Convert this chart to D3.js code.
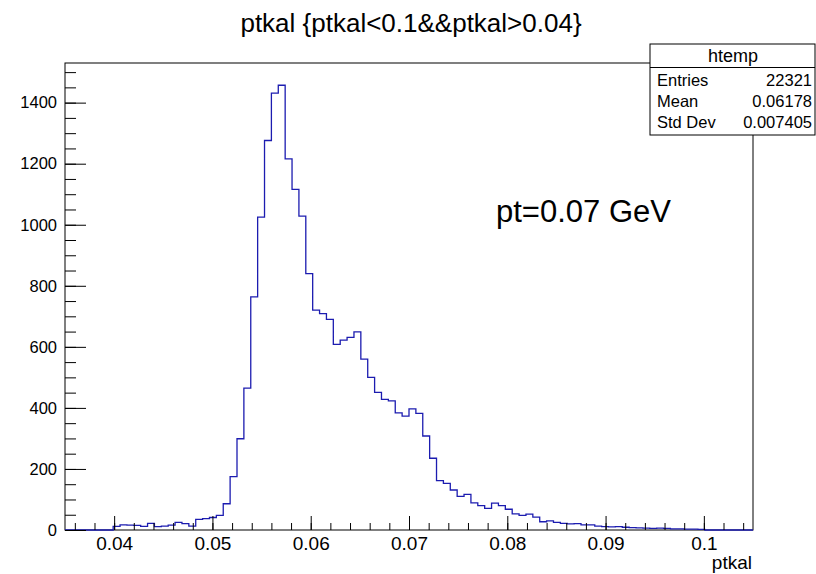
<!DOCTYPE html>
<html lang="en">
<head>
    <meta charset="utf-8">
    <title>ptkal</title>
    <script src="https://cdn.jsdelivr.net/npm/d3@7"></script>
    <style>
        body { margin: 0; background: #fff; }
        svg { display: block; font-family: "Liberation Sans", Arial, Helvetica, sans-serif; }
        .axis path.domain { display: none; }
        .axis line { stroke: #000; }
        .axis text { fill: #000; }
    </style>
</head>
<body>
    <svg id="canvas" width="816" height="574"></svg>
    <script>
        // histogram binning (100 bins, 0.035 .. 0.105)
        const binLow = 0.035
        const binWidth = 0.0007
        const counts = [
            0, 0, 0, 0, 0, 0, 0, 12, 17, 16,
            15, 12, 22, 11, 13, 16, 25, 21, 13, 35,
            37, 41, 48, 86, 175, 299, 465, 764, 1025, 1276,
            1431, 1457, 1216, 1116, 1028, 840, 720, 709, 690, 608,
            622, 631, 649, 560, 500, 451, 428, 423, 384, 373,
            397, 382, 308, 235, 162, 153, 131, 110, 117, 89,
            80, 71, 88, 80, 68, 53, 48, 52, 42, 27,
            30, 25, 22, 20, 21, 17, 17, 13, 11, 10,
            11, 9, 8, 7, 6, 5, 6, 5, 4, 4,
            3, 3, 2, 0, 0, 0, 0, 0, 0, 0
        ]
        const xMajor = [0.04, 0.05, 0.06, 0.07, 0.08, 0.09, 0.1]
        const xMinor = d3.range(18, 53).map(d => d * 0.002)
        const yMajor = [0, 200, 400, 600, 800, 1000, 1200, 1400]
        const yMinor = d3.range(0, 31).map(d => d * 50)
        const statNames = ["Entries", "Mean", "Std Dev"]
        const statValues = ["22321", "0.06178", "0.007405"]

        const svg = d3.select('svg')
        const frameL = 65, frameR = 753, frameT = 63, frameB = 530

        const x = d3.scaleLinear().domain([binLow, binLow + binWidth * counts.length]).range([frameL, frameR])
        const y = d3.scaleLinear().domain([0, 1.05 * d3.max(counts)]).range([frameB, frameT])

        // title
        svg.append("text")
            .attr("x", 411).attr("y", 32)
            .attr("text-anchor", "middle")
            .attr("font-size", 26)
            .text("ptkal {ptkal<0.1&&ptkal>0.04}")

        // frame
        svg.append("rect")
            .attr("x", frameL).attr("y", frameT)
            .attr("width", frameR - frameL).attr("height", frameB - frameT)
            .attr("fill", "none").attr("stroke", "#000")

        // histogram outline
        const pts = counts.map((c, i) => [binLow + i * binWidth, c])
        pts.push([binLow + counts.length * binWidth, counts[counts.length - 1]])
        const line = d3.line().x(d => x(d[0])).y(d => y(d[1])).curve(d3.curveStepAfter)
        svg.append("path")
            .attr("d", line(pts))
            .attr("fill", "none")
            .attr("stroke", "#1c1cb0")
            .attr("stroke-width", 1.3)

        // x axis
        svg.append("g").attr("class", "axis")
            .attr("transform", `translate(0,${frameB})`)
            .call(d3.axisBottom(x).tickValues(xMinor).tickSize(-7).tickFormat(""))
        svg.append("g").attr("class", "axis")
            .attr("transform", `translate(0,${frameB})`)
            .call(d3.axisBottom(x).tickValues(xMajor).tickSize(-14).tickPadding(7).tickFormat(d3.format("~g")))
            .selectAll("text").attr("font-size", 19)

        // y axis
        svg.append("g").attr("class", "axis")
            .attr("transform", `translate(${frameL},0)`)
            .call(d3.axisLeft(y).tickValues(yMinor).tickSize(-11).tickFormat(""))
        svg.append("g").attr("class", "axis")
            .attr("transform", `translate(${frameL},0)`)
            .call(d3.axisLeft(y).tickValues(yMajor).tickSize(-21).tickPadding(8).tickFormat(d3.format("d")))
            .selectAll("text").attr("font-size", 16.5)

        svg.append("text")
            .attr("x", 752).attr("y", 569)
            .attr("text-anchor", "end")
            .attr("font-size", 19)
            .text("ptkal")

        // annotation
        svg.append("text")
            .attr("x", 496).attr("y", 222)
            .attr("font-size", 31)
            .text("pt=0.07 GeV")

        // stats box
        const stats = svg.append("g")
        stats.append("rect")
            .attr("x", 650).attr("y", 44).attr("width", 165).attr("height", 91)
            .attr("fill", "#fff").attr("stroke", "#000")
        stats.append("line")
            .attr("x1", 650).attr("x2", 815).attr("y1", 67.5).attr("y2", 67.5)
            .attr("stroke", "#000")
        stats.append("text")
            .attr("x", 733).attr("y", 62)
            .attr("text-anchor", "middle")
            .attr("font-size", 18)
            .text("htemp")
        statNames.forEach((n, i) => {
            stats.append("text")
                .attr("x", 657).attr("y", 86 + i * 21)
                .attr("font-size", 16.5)
                .text(n)
            stats.append("text")
                .attr("x", 812).attr("y", 86 + i * 21)
                .attr("text-anchor", "end")
                .attr("font-size", 16.5)
                .text(statValues[i])
        })
    </script>
</body>
</html>
